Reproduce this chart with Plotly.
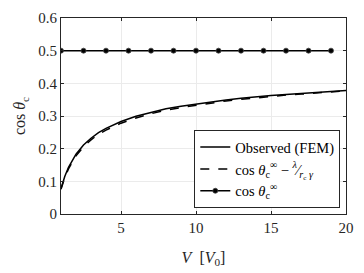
import plotly.graph_objects as go

# Data
v_curve = [1, 1.1, 1.25, 1.5, 1.75, 2, 2.5, 3, 3.5, 4, 5, 6, 7, 8, 9, 10, 11, 12, 13, 14, 15, 16, 17, 18, 19, 20]
observed = [0.078, 0.094, 0.115, 0.143, 0.165, 0.183, 0.211, 0.232, 0.249, 0.262, 0.283, 0.299, 0.311, 0.322,
            0.330, 0.337, 0.344, 0.349, 0.354, 0.359, 0.363, 0.366, 0.369, 0.372, 0.375, 0.378]
approx = [0.076, 0.091, 0.111, 0.138, 0.160, 0.178, 0.206, 0.227, 0.244, 0.257, 0.278, 0.294, 0.307, 0.318,
          0.326, 0.333, 0.340, 0.346, 0.351, 0.356, 0.360, 0.364, 0.367, 0.370, 0.374, 0.377]
v_marks = [1, 2.5, 4, 5.5, 7, 8.5, 10, 11.5, 13, 14.5, 16, 17.5, 19]
cos_inf = [0.5] * len(v_marks)

x_ticks = [5, 10, 15, 20]
y_ticks = [0, 0.1, 0.2, 0.3, 0.4, 0.5, 0.6]
y_tick_text = ["0", "0.1", "0.2", "0.3", "0.4", "0.5", "0.6"]

FONT = "Liberation Serif, DejaVu Serif, serif"
INK = "#262626"

fig = go.Figure()
fig.add_trace(go.Scatter(x=v_curve, y=observed, mode="lines",
                         line=dict(color="black", width=1.5),
                         name="Observed (FEM)"))
fig.add_trace(go.Scatter(x=v_curve, y=approx, mode="lines",
                         line=dict(color="black", width=1.5, dash="dash"),
                         name="cos <i>θ</i><sub>c</sub><sup>∞</sup> − <sup><i>λ</i></sup>⁄<sub><i>r</i><sub>c</sub> <i>γ</i></sub>"))
fig.add_trace(go.Scatter(x=v_marks, y=cos_inf, mode="lines+markers",
                         line=dict(color="black", width=1.5),
                         marker=dict(color="black", size=5, line=dict(color="#444", width=0.8)),
                         name="cos <i>θ</i><sub>c</sub><sup>∞</sup>"))

axis_common = dict(showline=True, linecolor=INK, linewidth=1, mirror="ticks",
                   ticks="inside", ticklen=3, tickcolor=INK,
                   showgrid=True, gridcolor="#ebebeb", gridwidth=1, zeroline=False,
                   tickfont=dict(family=FONT, size=15, color=INK))

fig.update_xaxes(range=[1, 20], tickvals=x_ticks,
                 title=dict(text="<i>V</i>  [<i>V</i><sub>0</sub>]", font=dict(family=FONT, size=16, color=INK), standoff=16),
                 **axis_common)
fig.update_yaxes(range=[0, 0.6], tickvals=y_ticks, ticktext=y_tick_text,
                 title=dict(text="cos <i>θ</i><sub>c</sub>", font=dict(family=FONT, size=16, color=INK), standoff=8),
                 **axis_common)

fig.update_layout(
    width=364, height=273,
    margin=dict(l=61, r=10, t=13, b=59),
    paper_bgcolor="white", plot_bgcolor="white",
    showlegend=True,
    legend=dict(x=0.98, y=0.03, xanchor="right", yanchor="bottom",
                bgcolor="white", bordercolor=INK, borderwidth=1,
                font=dict(family=FONT, size=14.5, color="black"),
                itemwidth=30, tracegroupgap=0),
)

fig.write_html("out.html", config={"displayModeBar": False},
               post_script="document.body.style.margin='0';")
